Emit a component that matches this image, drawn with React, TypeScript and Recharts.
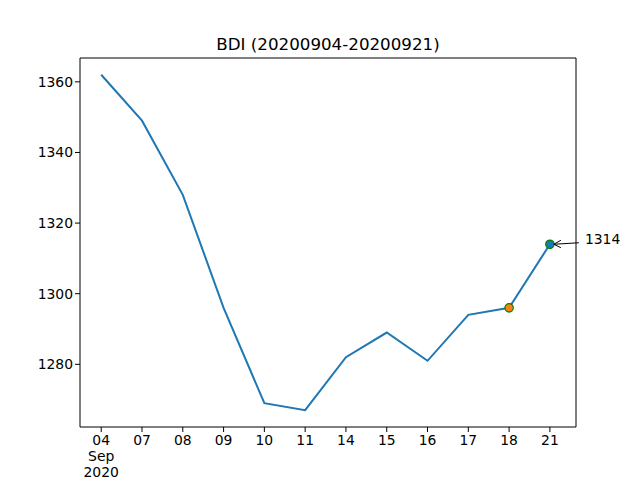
import React from "react";
import {
  LineChart,
  Line,
  XAxis,
  YAxis,
  ReferenceArea,
} from "recharts";

const dates = ["04", "07", "08", "09", "10", "11", "14", "15", "16", "17", "18", "21"];
const bdi = [1362, 1349, 1328, 1296, 1269, 1267, 1282, 1289, 1281, 1294, 1296, 1314];
const yTicks = [1280, 1300, 1320, 1340, 1360];

const font = "'DejaVu Sans', sans-serif";
const last = bdi.length - 1;

const chartData = bdi.map((v, i) => ({ i, v }));

const xMin = -0.52;
const xMax = last + 0.64;
const yMin = 1267 - (1362 - 1267) * 0.05;
const yMax = 1362 + (1362 - 1267) * 0.05;

function DateTick(props: any) {
  const { x, y, payload } = props;
  const lines = payload.value === 0 ? [dates[0], "Sep", "2020"] : [dates[payload.value]];
  return (
    <text x={x} y={y} textAnchor="middle" fontFamily={font} fontSize={13.9} fill="#000">
      {lines.map((t, k) => (
        <tspan key={k} x={x} dy={k === 0 ? 11 : 16}>
          {t}
        </tspan>
      ))}
    </text>
  );
}

function MarkDot(props: any) {
  const { cx, cy, index } = props;
  if (index === last - 1) {
    return <circle key={index} cx={cx} cy={cy} r={4.2} fill="#ff7f0e" stroke="green" strokeWidth={1.2} />;
  }
  if (index === last) {
    return (
      <g key={index}>
        <circle cx={cx} cy={cy} r={4.2} fill="#1f77b4" stroke="green" strokeWidth={1.2} />
        <line x1={cx + 29} y1={cy - 1.5} x2={cx + 4} y2={cy} stroke="#000" strokeWidth={1} />
        <polyline
          points={`${cx + 11},${cy - 4} ${cx + 4},${cy} ${cx + 11},${cy + 3.5}`}
          fill="none"
          stroke="#000"
          strokeWidth={1}
        />
        <text x={cx + 35} y={cy} fontFamily={font} fontSize={13.9} fill="#000">
          {bdi[last]}
        </text>
      </g>
    );
  }
  return <g key={index} />;
}

export default function App() {
  return (
    <div style={{ position: "absolute", left: 0, top: 0, width: 640, height: 480, background: "#fff" }}>
      <div
        style={{
          position: "absolute",
          left: 80,
          width: 496,
          top: 34,
          textAlign: "center",
          fontFamily: font,
          fontSize: 16.7,
          color: "#000",
        }}
      >
        BDI (20200904-20200921)
      </div>
      <LineChart
        width={640}
        height={480}
        data={chartData}
        margin={{ top: 58, right: 64, bottom: 3, left: 30 }}
      >
        <XAxis
          dataKey="i"
          type="number"
          domain={[xMin, xMax]}
          ticks={dates.map((_, i) => i)}
          interval={0}
          height={50}
          tick={<DateTick />}
          tickSize={5}
          axisLine={false}
          tickLine={{ stroke: "#000" }}
        />
        <YAxis
          dataKey="v"
          type="number"
          domain={[yMin, yMax]}
          ticks={yTicks}
          width={50}
          tickSize={5}
          axisLine={false}
          tickLine={{ stroke: "#000" }}
          tick={{ fill: "#000", fontFamily: font, fontSize: 13.9 }}
        />
        <ReferenceArea
          x1={xMin}
          x2={xMax}
          y1={yMin}
          y2={yMax}
          fill="none"
          fillOpacity={0}
          stroke="#000"
          strokeWidth={1}
        />
        <Line
          type="linear"
          dataKey="v"
          stroke="#1f77b4"
          strokeWidth={2}
          dot={MarkDot}
          activeDot={false}
          isAnimationActive={false}
        />
      </LineChart>
    </div>
  );
}
